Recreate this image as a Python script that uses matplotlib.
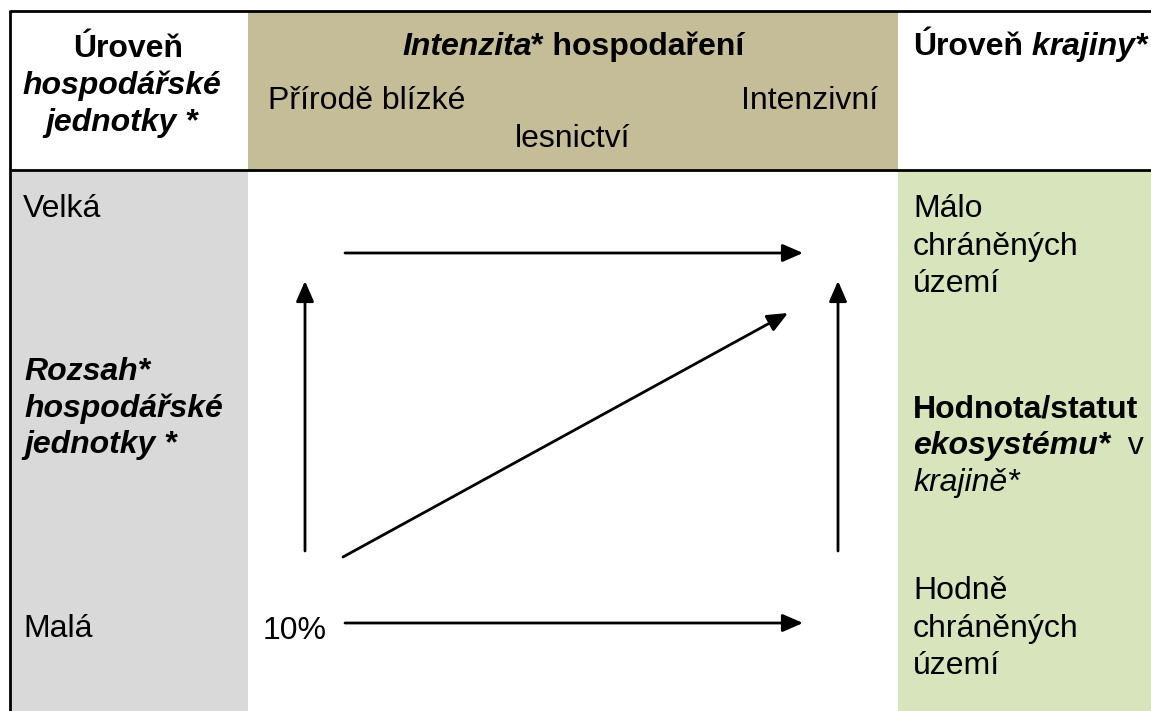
import matplotlib
matplotlib.use('Agg')
import matplotlib.pyplot as plt
from matplotlib.patches import Rectangle, FancyArrowPatch, ArrowStyle

plt.rcParams['font.family'] = ['Liberation Sans', 'DejaVu Sans']

W, H = 1151, 711
FS = 23

# Barvy buněk
col_left = '#d9d9d9'
col_head = '#c4bd97'
col_right = '#d7e4bc'

# Texty: řádek = (x, y účaří, zarovnání, [(text, tloušťka, řez), ...])
B, N = 'bold', 'normal'
I, U = 'italic', 'normal'

header_left = [
    (128, 57, 'center', [('Úroveň', B, U)]),
    (122, 94, 'center', [('hospodářské', B, I)]),
    (122, 131, 'center', [('jednotky *', B, I)]),
]
header_mid = [
    (402, 55, 'left', [('Intenzita', B, I), ('* hospodaření', B, U)]),
    (268, 109, 'left', [('Přírodě blízké', N, U)]),
    (741, 109, 'left', [('Intenzivní', N, U)]),
    (515, 147, 'left', [('lesnictví', N, U)]),
]
header_right = [
    (913, 55, 'left', [('Úroveň', B, U), (' krajiny*', B, I)]),
]
left_col = [
    (23, 217, 'left', [('Velká', N, U)]),
    (24, 380, 'left', [('Rozsah*', B, I)]),
    (24, 417, 'left', [('hospodářské', B, I)]),
    (24, 453, 'left', [('jednotky *', B, I)]),
    (23, 637, 'left', [('Malá', N, U)]),
]
right_col = [
    (913, 217, 'left', [('Málo', N, U)]),
    (913, 255, 'left', [('chráněných', N, U)]),
    (913, 292, 'left', [('území', N, U)]),
    (913, 417, 'left', [('Hodnota/statut', B, U)]),
    (913, 454, 'left', [('ekosystému*', B, I), ('  v', N, U)]),
    (913, 491, 'left', [('krajině*', N, I)]),
    (913, 599, 'left', [('Hodně', N, U)]),
    (913, 637, 'left', [('chráněných', N, U)]),
    (913, 674, 'left', [('území', N, U)]),
]
middle = [
    (263, 639, 'left', [('10%', N, U)]),
]

# Šipky: začátek -> konec
arrow_start = [(345, 253), (305, 551), (343, 557), (838, 551), (345, 623)]
arrow_end = [(803, 253), (305, 281), (788, 313), (838, 281), (803, 623)]

fig = plt.figure(figsize=(W / 100, H / 100), dpi=100)
ax = fig.add_axes([0, 0, 1, 1])
ax.set_xlim(0, W)
ax.set_ylim(H, 0)
ax.axis('off')

# Pozadí buněk
ax.add_patch(Rectangle((11, 171), 237, H - 171, color=col_left, lw=0))
ax.add_patch(Rectangle((248, 12), 650, 158, color=col_head, lw=0))
ax.add_patch(Rectangle((898, 171), W - 898, H - 171, color=col_right, lw=0))

# Čáry tabulky
ax.plot([10, W], [11, 11], color='black', lw=2, solid_capstyle='butt')
ax.plot([10, W], [170, 170], color='black', lw=2, solid_capstyle='butt')
ax.plot([10, 10], [10, H], color='black', lw=2, solid_capstyle='butt')

renderer = fig.canvas.get_renderer()
inv = ax.transData.inverted()


def draw_lines(lines):
    for x, y, ha, segs in lines:
        cx = x
        for s, w, st in segs:
            t = ax.text(cx, y, s, fontsize=FS, fontweight=w, fontstyle=st,
                        ha=ha, va='baseline', color='black')
            bb = t.get_window_extent(renderer).transformed(inv)
            cx = bb.x1


for block in [header_left, header_mid, header_right, left_col, right_col, middle]:
    draw_lines(block)

style = ArrowStyle('-|>', head_length=0.62, head_width=0.27)
for (x0, y0), (x1, y1) in zip(arrow_start, arrow_end):
    ax.add_patch(FancyArrowPatch((x0, y0), (x1, y1), arrowstyle=style,
                                 mutation_scale=20, lw=2, color='black',
                                 shrinkA=0, shrinkB=0))

fig.savefig('out.png', dpi=100)
